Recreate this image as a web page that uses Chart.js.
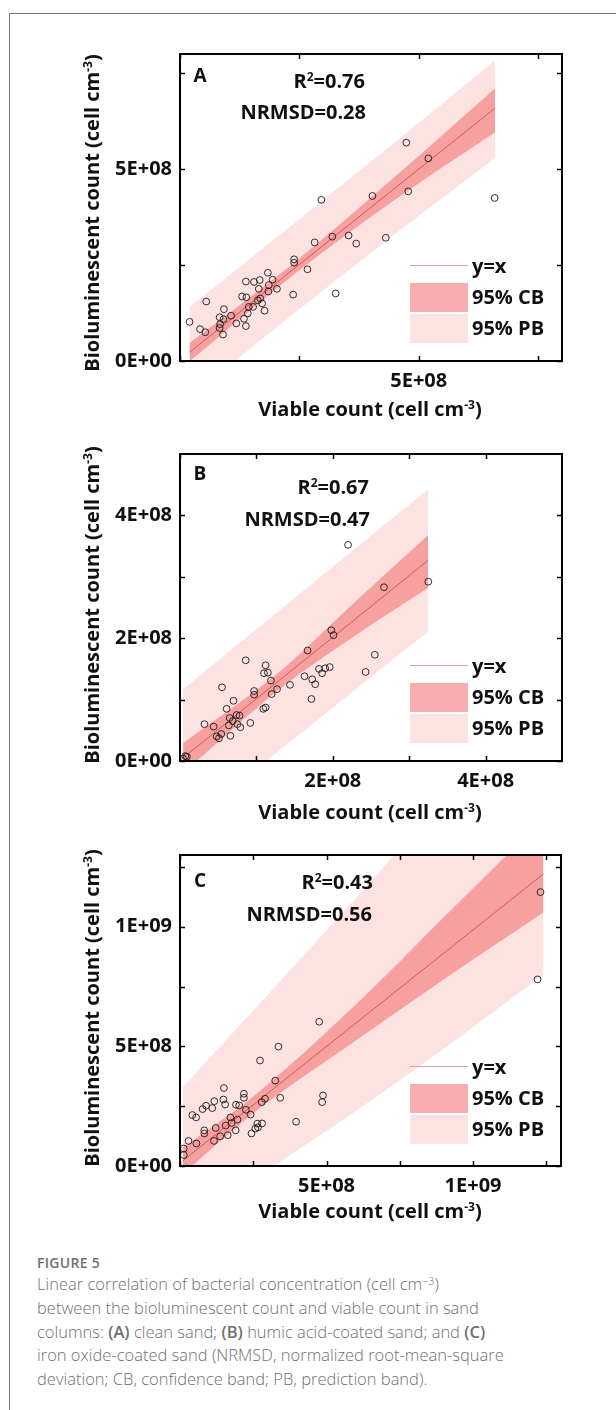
<!DOCTYPE html>
<html>
<head>
<meta charset="utf-8">
<script src="https://cdn.jsdelivr.net/npm/chart.js@4.4.1/dist/chart.umd.min.js"></script>
<style>
body { margin: 0; background: #fff; width: 616px; height: 1410px; position: relative; overflow: hidden; font-family: 'Open Sans', sans-serif; }
.frame { position: absolute; left: 9px; top: 13px; width: 700px; height: 1500px; border-left: 1px solid #777; border-top: 1px solid #777; }
canvas { position: absolute; left: 0; }
.t { position: absolute; font-weight: 700; color: #111; white-space: nowrap; transform: translate(-50%, -50%); line-height: 1; }
.r { transform: translate(-100%, -50%); }
.rot { transform: translate(-50%, -50%) rotate(-90deg); }
.t sup { font-size: 60%; vertical-align: 0; position: relative; top: -0.55em; line-height: 0; }
.lg-line { position: absolute; height: 1px; background: #e3a2a2; }
.lg-box { position: absolute; }
.cap { position: absolute; left: 37px; color: #6f6f6f; white-space: nowrap; }
.cap b { font-weight: 600; }
.cap sup { font-size: 65%; vertical-align: 0; position: relative; top: -0.5em; line-height: 0; }
</style>
</head>
<body>
<div class="frame"></div>

<canvas id="chartA" width="616" height="400" style="top:0px;width:616px;height:400px"></canvas>
<canvas id="chartB" width="616" height="400" style="top:400px;width:616px;height:400px"></canvas>
<canvas id="chartC" width="616" height="410" style="top:800px;width:616px;height:410px"></canvas>

<div id="labels"></div>

<div class="cap" style="top:1253px;font-size:14px;font-weight:600;letter-spacing:0.3px;">FIGURE 5</div>
<div class="cap" style="top:1272px;font-size:16.5px;line-height:23.75px;font-weight:300;">
Linear correlation of bacterial concentration (cell cm<sup>−3</sup>)<br>
between the bioluminescent count and viable count in sand<br>
columns: <b>(A)</b> clean sand; <b>(B)</b> humic acid-coated sand; and <b>(C)</b><br>
iron oxide-coated sand (NRMSD, normalized root-mean-square<br>
deviation; CB, confidence band; PB, prediction band).
</div>

<script>
// values are in units of 1E+08 cells per cm3
const UNIT = 1e8;

// ---- panel A: clean sand
const aViable = [4.74, 5.20, 4.03, 4.78, 6.59, 2.96, 3.19, 3.53, 3.69, 4.31, 2.82, 2.39, 2.39, 2.67, 3.26, 2.37,
  1.84, 1.94, 1.67, 1.38, 1.55, 1.86, 2.03, 1.65, 1.85, 1.30, 1.39, 1.68, 1.63, 1.72, 1.44, 1.53, 1.77,
  0.55, 0.92, 1.42, 1.07, 0.83, 0.91, 1.34, 1.18, 0.84, 1.38, 0.83, 0.20, 0.42, 0.53, 0.90];
const aBiolum = [5.69, 5.28, 4.30, 4.42, 4.25, 4.20, 3.24, 3.27, 3.06, 3.21, 3.09, 2.65, 2.56, 2.39, 1.76, 1.73,
  2.30, 2.12, 2.11, 2.07, 2.06, 1.98, 1.88, 1.88, 1.81, 1.68, 1.66, 1.63, 1.58, 1.50, 1.41, 1.41, 1.31,
  1.55, 1.35, 1.24, 1.18, 1.14, 1.09, 1.10, 0.98, 0.96, 0.91, 0.86, 1.02, 0.83, 0.75, 0.69];
const aFitX = [0.20, 6.60];
const aFitY = [0.23, 6.59];
const aBandX = [0.20, 2.30, 4.50, 6.60];
const aCbUpper = [0.47, 2.47, 4.80, 7.11];
const aCbLower = [-0.01, 2.17, 4.20, 5.96];
const aPbUpper = [1.41, 3.50, 5.70, 7.84];
const aPbLower = [-0.95, 1.15, 3.30, 5.29];
const aXTicks = [0, 2.5, 5, 7.5];
const aXLabels = ['', '', '5E+08', ''];
const aYTicks = [0, 2.5, 5, 7.5];
const aYLabels = ['0E+00', '', '5E+08', ''];

// ---- panel B: humic acid-coated sand
const bViable = [3.25, 2.67, 1.98, 2.01, 1.67, 2.55, 2.43, 1.96, 1.90, 1.82, 1.86, 1.63, 1.73, 1.77, 1.72, 1.44,
  1.27, 1.19, 1.20, 1.12, 1.10, 1.15, 0.86, 0.97, 0.97, 1.09, 1.12, 0.55, 0.70, 0.61, 0.78, 0.74, 0.65, 0.69,
  0.75, 0.64, 0.79, 0.92, 0.32, 0.44, 0.54, 0.48, 0.51, 0.66, 0.07, 0.09, 0.04, 2.20];
const bBiolum = [2.92, 2.83, 2.13, 2.05, 1.80, 1.73, 1.45, 1.53, 1.51, 1.50, 1.43, 1.38, 1.33, 1.25, 1.01, 1.24,
  1.17, 1.31, 1.09, 1.56, 1.43, 1.44, 1.64, 1.14, 1.08, 0.85, 0.87, 1.20, 0.98, 0.85, 0.74, 0.75, 0.70, 0.65,
  0.60, 0.58, 0.55, 0.62, 0.60, 0.56, 0.44, 0.40, 0.37, 0.41, 0.08, 0.07, 0.04, 3.52];
const bFitX = [0.04, 3.25];
const bFitY = [0.05, 3.27];
const bBandX = [0.04, 1.30, 2.30, 3.25];
const bCbUpper = [0.29, 1.45, 2.60, 3.68];
const bCbLower = [-0.20, 1.17, 2.05, 2.82];
const bPbUpper = [1.17, 2.45, 3.47, 4.42];
const bPbLower = [-1.07, 0.17, 1.17, 2.11];
const bXTicks = [0, 1, 2, 3, 4];
const bXLabels = ['', '', '2E+08', '', '4E+08'];
const bYTicks = [0, 1, 2, 3, 4];
const bYLabels = ['0E+00', '', '2E+08', '', '4E+08'];

// ---- panel C: iron oxide-coated sand
const cViable = [4.75, 3.36, 2.73, 3.25, 1.50, 4.88, 4.85, 3.42, 2.18, 2.18, 2.90, 2.79, 1.48, 1.54, 1.17, 0.89,
  1.10, 0.77, 1.91, 2.02, 2.25, 2.41, 0.42, 0.55, 1.72, 1.96, 3.96, 2.80, 2.66, 1.76, 1.56, 1.22, 0.83,
  0.29, 0.56, 0.83, 1.16, 1.37, 1.63, 1.90, 2.44, 2.57, 2.64, 0.13, 0.13, 12.30, 12.20];
const cBiolum = [6.03, 4.99, 4.41, 3.57, 3.26, 2.95, 2.67, 2.85, 3.02, 2.85, 2.81, 2.67, 2.78, 2.57, 2.71, 2.52,
  2.42, 2.38, 2.56, 2.53, 2.35, 2.15, 2.13, 2.03, 2.03, 1.94, 1.85, 1.78, 1.62, 1.80, 1.69, 1.59, 1.49,
  1.05, 0.94, 1.36, 1.05, 1.24, 1.29, 1.49, 1.36, 1.56, 1.77, 0.73, 0.46, 11.45, 7.80];
const cFitX = [0.10, 12.40];
const cFitY = [0.22, 12.21];
const cBandX = [0.10, 2.50, 6.00, 9.00, 12.40];
const cCbUpper = [0.77, 2.91, 6.75, 10.40, 14.50];
const cCbLower = [-0.33, 2.21, 5.25, 7.80, 10.60];
const cPbUpper = [3.30, 6.50, 11.20, 15.30, 19.90];
const cPbLower = [-2.80, -0.60, 2.30, 4.90, 8.00];
const cXTicks = [0, 2.5, 5, 7.5, 10, 12.5];
const cXLabels = ['', '', '5E+08', '', '1E+09', ''];
const cYTicks = [0, 2.5, 5, 7.5, 10, 12.5];
const cYLabels = ['0E+00', '', '5E+08', '', '1E+09', ''];

const CB_FILL = 'rgba(240, 105, 105, 0.55)';
const PB_FILL = 'rgb(253, 226, 226)';
const FIT_COLOR = '#d65a5a';

Chart.defaults.font.family = "'Open Sans', sans-serif";
Chart.defaults.color = '#111';

function pts(xs, ys) {
  return xs.map((x, i) => ({ x: x * UNIT, y: ys[i] * UNIT }));
}

// box + inward ticks on all four sides
const framePlugin = {
  id: 'frame',
  afterDatasetsDraw(chart) {
    const { ctx, chartArea: a, scales: { x, y } } = chart;
    ctx.save();
    ctx.strokeStyle = '#000';
    ctx.lineWidth = 1.5;
    ctx.beginPath();
    x.ticks.forEach(t => {
      const px = Math.round(x.getPixelForValue(t.value)) + 0.5;
      ctx.moveTo(px, a.bottom); ctx.lineTo(px, a.bottom - 5);
      ctx.moveTo(px, a.top); ctx.lineTo(px, a.top + 5);
    });
    y.ticks.forEach(t => {
      const py = Math.round(y.getPixelForValue(t.value)) + 0.5;
      ctx.moveTo(a.left, py); ctx.lineTo(a.left + 5, py);
      ctx.moveTo(a.right, py); ctx.lineTo(a.right - 5, py);
    });
    ctx.stroke();
    ctx.lineWidth = 2;
    ctx.strokeRect(a.left, a.top, a.right - a.left, a.bottom - a.top);
    ctx.restore();
  }
};

function makePanel(id, p) {
  const ctx = document.getElementById(id).getContext('2d');
  const bandLine = { type: 'line', borderWidth: 0, pointRadius: 0, cubicInterpolationMode: 'monotone' };
  new Chart(ctx, {
    type: 'scatter',
    data: {
      datasets: [
        {
          data: pts(p.viable, p.biolum),
          pointRadius: 3.4,
          pointBorderWidth: 0.9,
          pointBorderColor: '#1a1a1a',
          pointBackgroundColor: 'rgba(0,0,0,0)'
        },
        { type: 'line', data: pts(p.fitX, p.fitY), borderColor: FIT_COLOR, borderWidth: 1, pointRadius: 0, fill: false },
        { ...bandLine, data: pts(p.bandX, p.cbUp), fill: '+1', backgroundColor: CB_FILL },
        { ...bandLine, data: pts(p.bandX, p.cbLo), fill: false },
        { ...bandLine, data: pts(p.bandX, p.pbUp), fill: '+1', backgroundColor: PB_FILL },
        { ...bandLine, data: pts(p.bandX, p.pbLo), fill: false }
      ]
    },
    options: {
      responsive: false,
      animation: false,
      layout: { padding: { top: p.padTop, right: p.padRight, left: 0, bottom: 0 } },
      plugins: { legend: { display: false }, tooltip: { enabled: false } },
      scales: {
        x: {
          type: 'linear',
          min: p.xRange[0] * UNIT, max: p.xRange[1] * UNIT,
          grid: { display: false, drawTicks: false },
          border: { display: false },
          afterBuildTicks: s => { s.ticks = p.xTicks.map(v => ({ value: v * UNIT })); },
          afterFit: s => { s.height = p.xHeight; },
          ticks: {
            autoSkip: false, maxRotation: 0, padding: 8,
            font: { size: 20, weight: 'bold' },
            callback: (v, i) => p.xLabels[i]
          }
        },
        y: {
          type: 'linear',
          min: p.yRange[0] * UNIT, max: p.yRange[1] * UNIT,
          grid: { display: false, drawTicks: false },
          border: { display: false },
          afterBuildTicks: s => { s.ticks = p.yTicks.map(v => ({ value: v * UNIT })); },
          afterFit: s => { s.width = 180; },
          ticks: {
            autoSkip: false, padding: 8,
            font: { size: 20, weight: 'bold' },
            callback: (v, i) => p.yLabels[i]
          }
        }
      }
    },
    plugins: [framePlugin]
  });
}

makePanel('chartA', {
  viable: aViable, biolum: aBiolum, fitX: aFitX, fitY: aFitY,
  bandX: aBandX, cbUp: aCbUpper, cbLo: aCbLower, pbUp: aPbUpper, pbLo: aPbLower,
  xTicks: aXTicks, xLabels: aXLabels, yTicks: aYTicks, yLabels: aYLabels,
  xRange: [0, 8], yRange: [0, 8], padTop: 54, padRight: 54, xHeight: 39
});
makePanel('chartB', {
  viable: bViable, biolum: bBiolum, fitX: bFitX, fitY: bFitY,
  bandX: bBandX, cbUp: bCbUpper, cbLo: bCbLower, pbUp: bPbUpper, pbLo: bPbLower,
  xTicks: bXTicks, xLabels: bXLabels, yTicks: bYTicks, yLabels: bYLabels,
  xRange: [0, 5], yRange: [0, 5], padTop: 54, padRight: 54, xHeight: 39
});
makePanel('chartC', {
  viable: cViable, biolum: cBiolum, fitX: cFitX, fitY: cFitY,
  bandX: cBandX, cbUp: cCbUpper, cbLo: cCbLower, pbUp: cPbUpper, pbLo: cPbLower,
  xTicks: cXTicks, xLabels: cXLabels, yTicks: cYTicks, yLabels: cYLabels,
  xRange: [0, 13], yRange: [0, 13], padTop: 55, padRight: 55, xHeight: 44
});

// annotation texts and legends (page pixel positions)
const panels = [
  { letter: 'A', r2: '0.76', nrmsd: '0.28', letterY: 75, r2Y: 81, r2R: 365, nY: 112, nR: 366, xt: 409, yt: 213, legTop: 265 },
  { letter: 'B', r2: '0.67', nrmsd: '0.47', letterY: 473, r2Y: 487, r2R: 369, nY: 519, nR: 370, xt: 812, yt: 605, legTop: 665 },
  { letter: 'C', r2: '0.43', nrmsd: '0.56', letterY: 880, r2Y: 882, r2R: 373, nY: 914, nR: 372, xt: 1211, yt: 1008, legTop: 1066 }
];
const host = document.getElementById('labels');
let html = '';
panels.forEach(p => {
  html += `<div class="t" style="left:200px;top:${p.letterY}px;font-size:19px">${p.letter}</div>`;
  html += `<div class="t r" style="left:${p.r2R}px;top:${p.r2Y}px;font-size:20px">R<sup>2</sup>=${p.r2}</div>`;
  html += `<div class="t r" style="left:${p.nR}px;top:${p.nY}px;font-size:20px">NRMSD=${p.nrmsd}</div>`;
  html += `<div class="t" style="left:370px;top:${p.xt}px;font-size:20px">Viable count (cell cm<sup>-3</sup>)</div>`;
  html += `<div class="t rot" style="left:92px;top:${p.yt}px;font-size:20px">Bioluminescent count (cell cm<sup>-3</sup>)</div>`;
  const L = p.legTop;
  html += `<div class="lg-line" style="left:410px;top:${L}px;width:58px"></div>`;
  html += `<div class="lg-box" style="left:410px;top:${L + 18}px;width:58px;height:29px;background:${CB_FILL}"></div>`;
  html += `<div class="lg-box" style="left:410px;top:${L + 49}px;width:58px;height:29px;background:${PB_FILL}"></div>`;
  html += `<div class="t" style="left:472px;top:${L + 1}px;font-size:20px;transform:translate(0,-50%)">y=x</div>`;
  html += `<div class="t" style="left:472px;top:${L + 32}px;font-size:20px;transform:translate(0,-50%)">95% CB</div>`;
  html += `<div class="t" style="left:472px;top:${L + 63}px;font-size:20px;transform:translate(0,-50%)">95% PB</div>`;
});
host.innerHTML = html;
</script>
</body>
</html>
